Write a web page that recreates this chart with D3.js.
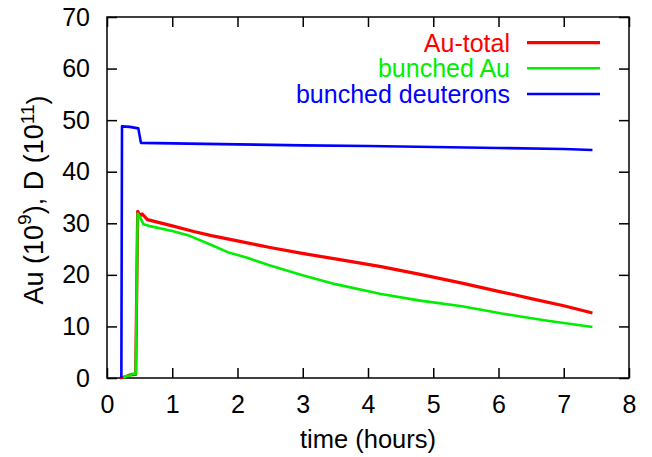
<!DOCTYPE html>
<html>
<head>
<meta charset="utf-8">
<script src="https://cdn.jsdelivr.net/npm/d3@7"></script>
<style>
  html, body { margin: 0; padding: 0; background: #fff; }
  svg text { font-family: "Liberation Sans", Arial, sans-serif; }
</style>
</head>
<body>
<svg id="chart" width="652" height="457"></svg>
<script>
// Beam intensities during the store (time in hours)
const auTotalTime   = [0.20, 0.30, 0.35, 0.44, 0.47, 0.51, 0.54, 0.62, 1.00, 1.33, 1.60, 2.15, 2.50, 2.97, 3.50, 4.20, 4.80, 5.44, 6.00, 6.26, 6.50, 7.00, 7.44];
const auTotalValue  = [0.0,  0.3,  0.6,  0.7,  32.3, 31.5, 31.8, 30.7, 29.5, 28.4, 27.6, 26.2, 25.3, 24.2, 23.1, 21.6, 20.1, 18.4, 16.8, 16.1, 15.4, 14.0, 12.6];

const auBunchedTime  = [0.25, 0.30, 0.36, 0.38, 0.44, 0.47, 0.51, 0.56, 0.64, 1.00, 1.24, 1.60, 1.85, 2.15, 2.50, 2.97, 3.50, 4.20, 4.80, 5.44, 6.05, 6.70, 7.44];
const auBunchedValue = [0.0,  0.4,  0.5,  0.8,  0.8,  31.9, 31.1, 29.8, 29.5, 28.5, 27.7, 25.8, 24.4, 23.3, 21.8, 20.0, 18.2, 16.3, 15.0, 13.9, 12.5, 11.2, 9.9];

const deutTime  = [0.22, 0.23, 0.35, 0.48, 0.52, 1.0,  2.0,  3.0,  4.0,  5.0,  6.0,  7.0,  7.44];
const deutValue = [0.0,  48.8, 48.7, 48.4, 45.6, 45.5, 45.3, 45.1, 45.0, 44.8, 44.6, 44.4, 44.2];

const xTicks = [0, 1, 2, 3, 4, 5, 6, 7, 8];
const yTicks = [0, 10, 20, 30, 40, 50, 60, 70];

const seriesNames  = ["Au-total", "bunched Au", "bunched deuterons"];
const seriesColors = ["#ff0000", "#00ee00", "#0000ff"];

const svg = d3.select("#chart");
const plotLeft = 107, plotRight = 629, plotTop = 17, plotBottom = 378;

const x = d3.scaleLinear().domain([0, 8]).range([plotLeft, plotRight]);
const y = d3.scaleLinear().domain([0, 70]).range([plotBottom, plotTop]);

const tickFont = 25;

// Axes with inward ticks on all four sides
const gBottom = svg.append("g").attr("transform", `translate(0,${plotBottom})`)
  .call(d3.axisBottom(x).tickValues(xTicks).tickSize(-10).tickSizeOuter(0).tickPadding(17));
const gLeft = svg.append("g").attr("transform", `translate(${plotLeft},0)`)
  .call(d3.axisLeft(y).tickValues(yTicks).tickSize(-10).tickSizeOuter(0).tickPadding(17));
const gTop = svg.append("g").attr("transform", `translate(0,${plotTop})`)
  .call(d3.axisTop(x).tickValues(xTicks).tickSize(-10).tickSizeOuter(0).tickFormat(""));
const gRight = svg.append("g").attr("transform", `translate(${plotRight},0)`)
  .call(d3.axisRight(y).tickValues(yTicks).tickSize(-10).tickSizeOuter(0).tickFormat(""));

[gBottom, gLeft, gTop, gRight].forEach(g => {
  g.select(".domain").remove();
  g.selectAll(".tick line").attr("stroke", "#000").attr("stroke-width", 1.5);
  g.selectAll(".tick text").attr("font-size", tickFont).attr("fill", "#000")
    .attr("font-family", "Liberation Sans, Arial, sans-serif");
});

// Plot frame
svg.append("rect")
  .attr("x", plotLeft).attr("y", plotTop)
  .attr("width", plotRight - plotLeft).attr("height", plotBottom - plotTop)
  .attr("fill", "none").attr("stroke", "#000").attr("stroke-width", 1.5);

// Axis titles
svg.append("text")
  .attr("x", (plotLeft + plotRight) / 2).attr("y", 448)
  .attr("text-anchor", "middle").attr("font-size", 25.5)
  .text("time (hours)");

const yTitle = svg.append("text")
  .attr("transform", `translate(43,200) rotate(-90)`)
  .attr("text-anchor", "middle").attr("font-size", 27);
yTitle.append("tspan").text("Au (10");
yTitle.append("tspan").attr("font-size", 19).attr("dy", "-0.65em").text("9");
yTitle.append("tspan").attr("dy", "0.45em").text("), D (10");
yTitle.append("tspan").attr("font-size", 19).attr("dy", "-0.45em").text("11");
yTitle.append("tspan").attr("dy", "0.45em").text(")");

// Data lines
const series = [
  { t: auTotalTime, v: auTotalValue, w: 3.2 },
  { t: auBunchedTime, v: auBunchedValue, w: 2.6 },
  { t: deutTime, v: deutValue, w: 2.6 }
];
const line = d3.line().x(d => x(d[0])).y(d => y(d[1]));
series.forEach((s, i) => {
  svg.append("path")
    .datum(d3.zip(s.t, s.v))
    .attr("fill", "none")
    .attr("stroke", seriesColors[i])
    .attr("stroke-width", s.w)
    .attr("stroke-linejoin", "round")
    .attr("d", line);
});

// Legend
const legendY = [42.7, 68.3, 94];
seriesNames.forEach((name, i) => {
  svg.append("text")
    .attr("x", 510).attr("y", legendY[i] + 9)
    .attr("text-anchor", "end").attr("font-size", 25)
    .attr("fill", seriesColors[i]).text(name);
  svg.append("line")
    .attr("x1", 527).attr("x2", 600)
    .attr("y1", legendY[i]).attr("y2", legendY[i])
    .attr("stroke", seriesColors[i]).attr("stroke-width", series[i].w);
});
</script>
</body>
</html>
